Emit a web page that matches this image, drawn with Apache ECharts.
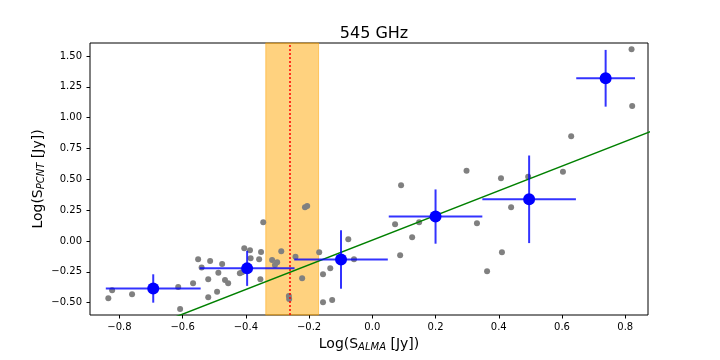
<!DOCTYPE html>
<html>
<head>
<meta charset="utf-8">
<script src="https://cdn.jsdelivr.net/npm/echarts@6/dist/echarts.min.js"></script>
<style>
    html, body { margin: 0; padding: 0; background: #fff; }
    #chart { width: 720px; height: 360px; }
</style>
</head>
<body>
<div id="chart"></div>
<script>
// single sources: log flux ALMA vs PCNT
var almaX = [-0.835, -0.823, -0.760, -0.614, -0.608, -0.567, -0.551, -0.540, -0.519, -0.519,
    -0.513, -0.491, -0.487, -0.475, -0.466, -0.456, -0.419, -0.412, -0.405, -0.387,
    -0.385, -0.358, -0.352, -0.345, -0.354, -0.317, -0.308, -0.301, -0.288, -0.264,
    -0.263, -0.243, -0.213, -0.206, -0.222, -0.168, -0.156, -0.156, -0.133, -0.127,
    -0.076, -0.058, 0.072, 0.088, 0.091, 0.126, 0.148, 0.298, 0.331, 0.363,
    0.407, 0.410, 0.439, 0.493, 0.603, 0.629, 0.820, 0.822];
var pcntY = [-0.465, -0.400, -0.432, -0.373, -0.551, -0.343, -0.149, -0.214, -0.311, -0.457,
    -0.162, -0.411, -0.257, -0.187, -0.316, -0.343, -0.262, -0.254, -0.059, -0.076,
    -0.140, -0.148, -0.090, 0.152, -0.311, -0.154, -0.195, -0.173, -0.084, -0.446,
    -0.470, -0.128, 0.273, 0.284, -0.303, -0.092, -0.270, -0.497, -0.221, -0.479,
    0.014, -0.148, 0.135, -0.116, 0.452, 0.030, 0.152, 0.570, 0.143, -0.246,
    0.508, -0.092, 0.273, 0.521, 0.562, 0.849, 1.555, 1.095];

// binned values with errors
var binX = [-0.693, -0.396, -0.099, 0.200, 0.496, 0.738];
var binY = [-0.385, -0.222, -0.150, 0.198, 0.338, 1.319];
var binXErr = [0.15, 0.15, 0.148, 0.148, 0.148, 0.093];
var binYErr = [0.115, 0.142, 0.237, 0.22, 0.355, 0.23];

// fit line
var fitX = [-1.0, 1.0];
var fitY = [-0.993, 1.007];

// shaded range and its middle
var bandLo = -0.337;
var bandHi = -0.170;
var bandMid = -0.255;

var xTicks = [-0.8, -0.6, -0.4, -0.2, 0.0, 0.2, 0.4, 0.6, 0.8];
var yTicks = [-0.5, -0.25, 0.0, 0.25, 0.5, 0.75, 1.0, 1.25, 1.5];

var font = 'DejaVu Sans';

function tickFmt(digits) {
    return function (v) {
        var s = (+v).toFixed(digits);
        if (parseFloat(s) === 0) s = (0).toFixed(digits);
        return s.replace('-', '\u2212');
    };
}

var myChart = echarts.init(document.getElementById('chart'));

var scatterData = almaX.map(function (x, i) { return [x, pcntY[i]]; });
var binData = binX.map(function (x, i) { return [x, binY[i], binXErr[i], binYErr[i]]; });
var fitData = fitX.map(function (x, i) { return [x, fitY[i]]; });

var nameRich = {
    n: { fontFamily: font, fontSize: 14, color: '#000' },
    s: { fontFamily: font, fontSize: 10, fontStyle: 'italic', color: '#000', verticalAlign: 'bottom', padding: [6, 0, 0, 0] }
};

var option = {
    animation: false,
    title: {
        text: '545 GHz',
        left: 369,
        top: 21,
        textAlign: 'center',
        textStyle: {
            fontFamily: font,
            fontSize: 16,
            fontWeight: 'normal',
            color: '#000'
        }
    },
    grid: {
        left: 90,
        right: 72,
        top: 43,
        bottom: 45,
        show: true,
        borderColor: '#000',
        borderWidth: 1,
        backgroundColor: 'transparent'
    },
    xAxis: {
        type: 'value',
        min: -0.893,
        max: 0.872,
        name: '{n|Log(S}{s|ALMA}{n| [Jy])}',
        nameLocation: 'middle',
        nameGap: 21,
        nameMoveOverlap: false,
        nameTextStyle: { rich: nameRich },
        axisLine: { show: false, onZero: false },
        splitLine: { show: false },
        axisTick: {
            show: true,
            inside: false,
            length: 3.5,
            customValues: xTicks,
            lineStyle: { color: '#000', width: 1 }
        },
        axisLabel: {
            customValues: xTicks,
            margin: 7,
            fontFamily: font,
            fontSize: 10,
            color: '#000',
            formatter: tickFmt(1)
        }
    },
    yAxis: {
        type: 'value',
        min: -0.6,
        max: 1.605,
        name: '{n|Log(S}{s|PCNT}{n| [Jy])}',
        nameLocation: 'middle',
        nameGap: 44,
        nameMoveOverlap: false,
        nameTextStyle: { rich: nameRich },
        axisLine: { show: false, onZero: false },
        splitLine: { show: false },
        axisTick: {
            show: true,
            inside: false,
            length: 3.5,
            customValues: yTicks,
            lineStyle: { color: '#000', width: 1 }
        },
        axisLabel: {
            customValues: yTicks,
            margin: 8,
            fontFamily: font,
            fontSize: 10,
            color: '#000',
            formatter: tickFmt(2)
        }
    },
    series: [
        {
            // shaded band + dotted median line
            type: 'line',
            data: [],
            z: 1,
            markArea: {
                silent: true,
                itemStyle: {
                    color: 'rgba(255,165,0,0.5)',
                    borderColor: 'rgba(255,165,0,0.5)',
                    borderWidth: 1
                },
                data: [[{ xAxis: bandLo }, { xAxis: bandHi }]]
            },
            markLine: {
                silent: true,
                symbol: 'none',
                label: { show: false },
                lineStyle: { color: '#ff0000', type: [2, 2], width: 1.5 },
                data: [{ xAxis: bandMid }]
            }
        },
        {
            type: 'scatter',
            data: scatterData,
            symbolSize: 6,
            z: 3,
            itemStyle: { color: '#808080', opacity: 1 }
        },
        {
            type: 'line',
            data: fitData,
            symbol: 'none',
            clip: true,
            z: 4,
            lineStyle: { color: '#008000', width: 1.5 }
        },
        {
            type: 'custom',
            data: binData,
            z: 5,
            encode: { x: 0, y: 1 },
            renderItem: function (params, api) {
                var x = api.value(0), y = api.value(1);
                var ex = api.value(2), ey = api.value(3);
                var l = api.coord([x - ex, y]);
                var r = api.coord([x + ex, y]);
                var t = api.coord([x, y + ey]);
                var b = api.coord([x, y - ey]);
                var st = { stroke: 'rgba(0,0,255,0.8)', lineWidth: 2 };
                return {
                    type: 'group',
                    children: [
                        { type: 'line', shape: { x1: l[0], y1: l[1], x2: r[0], y2: r[1] }, style: st },
                        { type: 'line', shape: { x1: t[0], y1: t[1], x2: b[0], y2: b[1] }, style: st }
                    ]
                };
            }
        },
        {
            type: 'scatter',
            data: binData.map(function (d) { return [d[0], d[1]]; }),
            symbolSize: 12,
            z: 6,
            itemStyle: { color: '#0000ff', opacity: 1 }
        }
    ]
};

myChart.setOption(option);
</script>
</body>
</html>
